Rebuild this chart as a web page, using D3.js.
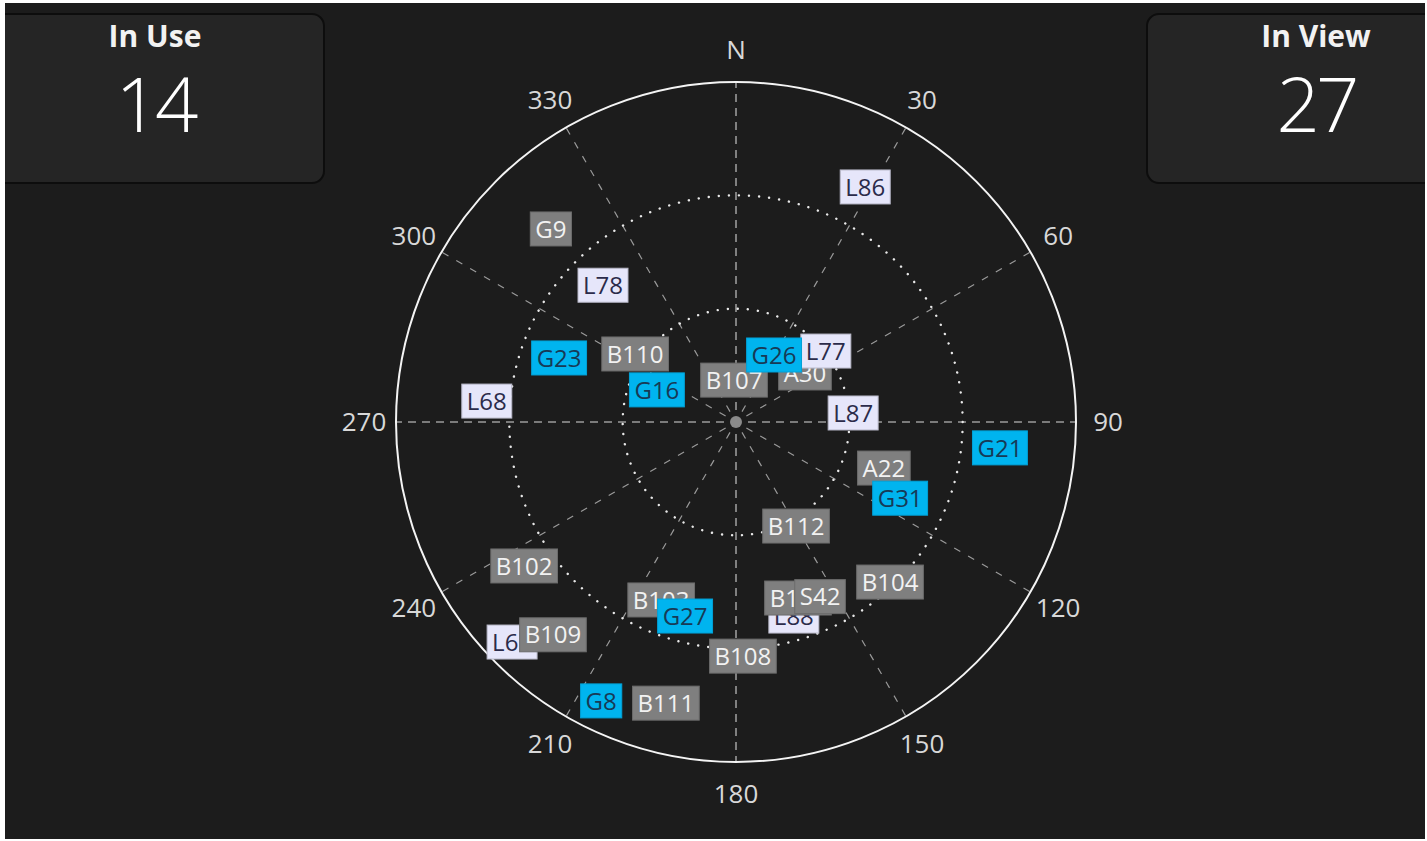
<!DOCTYPE html>
<html>
<head>
<meta charset="utf-8">
<script src="https://cdn.jsdelivr.net/npm/d3@7"></script>
<style>
  html, body { margin: 0; padding: 0; background: #ffffff; overflow: hidden; }
  svg { display: block; }
</style>
</head>
<body>
<div id="sky"></div>
<script>
// sky plot data
var satIds = ["L86", "G9", "L78", "G23", "B110", "G16", "L68", "B107", "A30", "L77", "G26",
  "L87", "G21", "A22", "G31", "B112", "B102", "B104", "B103", "G27", "L88", "B105", "S42",
  "B108", "L65", "B109", "G8", "B111"];
var azimuths = [28.8, 316.2, 315.8, 289.9, 304.0, 292.1, 274.8, 357.3, 54.6, 51.7, 29.6,
  85.6, 95.6, 107.3, 114.9, 150.0, 235.8, 136.1, 202.8, 194.7, 163.4, 160.6, 154.3,
  178.3, 225.5, 220.7, 205.8, 194.0];
var elevations = [19.0, 19.2, 39.5, 40.2, 57.8, 67.4, 23.8, 78.9, 67.6, 59.7, 69.6,
  58.9, 19.8, 49.0, 42.1, 58.2, 22.2, 31.2, 38.9, 36.9, 36.4, 40.6, 38.7,
  28.0, 6.9, 15.7, 8.0, 13.3];
// used = in solution, tracked = signal only, seen = no signal
var states = ["seen", "tracked", "seen", "used", "tracked", "used", "seen", "tracked", "tracked", "seen", "used",
  "seen", "used", "tracked", "used", "tracked", "tracked", "tracked", "tracked", "used", "seen", "tracked", "tracked",
  "tracked", "seen", "tracked", "used", "tracked"];

var azimuthTicks = [0, 30, 60, 90, 120, 150, 180, 210, 240, 270, 300, 330];
var azimuthLabels = ["N", "30", "60", "90", "120", "150", "180", "210", "240", "270", "300", "330"];
var elevationRings = [60, 30];

var inUse = 14;
var inView = 27;

var svgWidth = 1427;
var svgHeight = 841;
var cx = 736, cy = 422;
var outerR = 340;

var svg = d3.select("#sky")
  .append("svg")
  .attr("width", svgWidth)
  .attr("height", svgHeight);

// dark background inside thin white frame
svg.append("rect")
  .attr("x", 5).attr("y", 3)
  .attr("width", svgWidth - 7).attr("height", svgHeight - 5)
  .attr("fill", "#1c1c1c");

// count panels
function panel(x, w, title, value, tx) {
  svg.append("rect")
    .attr("x", x).attr("y", 14)
    .attr("width", w).attr("height", 169)
    .attr("rx", 12).attr("ry", 12)
    .attr("fill", "#252525")
    .attr("stroke", "#0d0d0d")
    .attr("stroke-width", 2);
  svg.append("text")
    .attr("x", tx).attr("y", 47)
    .attr("text-anchor", "middle")
    .style("font-family", "'Open Sans', 'Noto Sans', sans-serif")
    .style("font-weight", "bold")
    .style("font-size", "30px")
    .attr("fill", "#f2f2f2")
    .text(title);
  svg.append("text")
    .attr("x", tx).attr("y", 132)
    .attr("text-anchor", "middle")
    .style("font-family", "'Open Sans', 'Noto Sans', sans-serif")
    .style("font-weight", "300")
    .style("font-size", "76px")
    .style("letter-spacing", "-4px")
    .attr("fill", "#ffffff")
    .text(value);
}
panel(-10, 334, "In Use", inUse, 155);
panel(1147, 300, "In View", inView, 1316);

// white frame strips over the panels
svg.append("rect").attr("x", 0).attr("y", 0).attr("width", 5).attr("height", svgHeight).attr("fill", "#ffffff");
svg.append("rect").attr("x", 0).attr("y", 0).attr("width", svgWidth).attr("height", 3).attr("fill", "#ffffff");
svg.append("rect").attr("x", svgWidth - 2).attr("y", 0).attr("width", 2).attr("height", svgHeight).attr("fill", "#ffffff");

var plot = svg.append("g")
  .attr("transform", `translate(${cx}, ${cy})`);

var rScale = d3.scaleLinear()
  .domain([90, 0])
  .range([0, outerR]);

function px(az, el) { return rScale(el) * Math.sin(az * Math.PI / 180); }
function py(az, el) { return -rScale(el) * Math.cos(az * Math.PI / 180); }

// spokes
plot.selectAll("line.spoke")
  .data(azimuthTicks)
  .enter()
  .append("line")
  .classed("spoke", true)
  .attr("x1", d => px(d, rScale.invert(12)))
  .attr("y1", d => py(d, rScale.invert(12)))
  .attr("x2", d => px(d, 0))
  .attr("y2", d => py(d, 0))
  .attr("stroke", "#9a9a9a")
  .attr("stroke-width", d => d % 90 == 0 ? 1.6 : 1.2)
  .attr("stroke-dasharray", d => d % 90 == 0 ? "8,6" : "7,9");

// elevation rings
plot.selectAll("circle.ring")
  .data(elevationRings)
  .enter()
  .append("circle")
  .classed("ring", true)
  .attr("r", d => rScale(d))
  .attr("fill", "none")
  .attr("stroke", "#e8e8e8")
  .attr("stroke-width", 2.4)
  .attr("stroke-linecap", "round")
  .attr("stroke-dasharray", "0.1,10");

plot.append("circle")
  .attr("r", rScale(0))
  .attr("fill", "none")
  .attr("stroke", "#f4f4f4")
  .attr("stroke-width", 2);

plot.append("circle")
  .attr("r", 6)
  .attr("fill", "#8a8a8a");

// azimuth labels
plot.selectAll("text.az")
  .data(azimuthTicks)
  .enter()
  .append("text")
  .classed("az", true)
  .attr("x", d => (outerR + 32) * Math.sin(d * Math.PI / 180))
  .attr("y", d => -(outerR + 32) * Math.cos(d * Math.PI / 180))
  .attr("dy", "0.35em")
  .attr("text-anchor", "middle")
  .style("font-family", "'Open Sans', 'Noto Sans', sans-serif")
  .style("font-size", "26px")
  .attr("fill", "#d8d8d8")
  .text((d, i) => azimuthLabels[i]);

// satellites
var fills = { used: "#00b4ef", tracked: "#7f7f7f", seen: "#e6e6fa" };
var strokes = { used: "#00a2d8", tracked: "#6c6c6c", seen: "#b8b8c8" };
var inks = { used: "#173a56", tracked: "#f2f2f2", seen: "#2b2b4a" };

var sats = satIds.map(function(id, i) {
  return { id: id, az: azimuths[i], el: elevations[i], state: states[i] };
});

var satGroup = plot.selectAll("g.sat")
  .data(sats)
  .enter()
  .append("g")
  .classed("sat", true)
  .attr("transform", d => `translate(${px(d.az, d.el)}, ${py(d.az, d.el)})`);

var boxes = satGroup.append("rect")
  .attr("fill", d => fills[d.state])
  .attr("stroke", d => strokes[d.state])
  .attr("stroke-width", 1);

var labels = satGroup.append("text")
  .attr("text-anchor", "middle")
  .attr("dy", "0.36em")
  .style("font-family", "'Open Sans', 'Noto Sans', sans-serif")
  .style("font-size", "24px")
  .attr("fill", d => inks[d.state])
  .text(d => d.id);

labels.each(function(d) {
  d.w = this.getComputedTextLength() + 10;
});

boxes
  .attr("x", d => -d.w / 2)
  .attr("y", -17)
  .attr("width", d => d.w)
  .attr("height", 34);
</script>
</body>
</html>
